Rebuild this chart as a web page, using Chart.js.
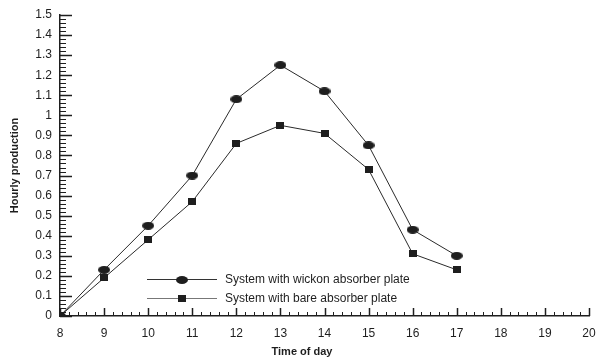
<!DOCTYPE html>
<html>
<head>
<meta charset="utf-8">
<script src="https://cdn.jsdelivr.net/npm/chart.js@4"></script>
<style>
  html, body { margin: 0; padding: 0; background: #fff; }
  canvas { display: block; }
</style>
</head>
<body>
<canvas id="c" width="597" height="363"></canvas>
<script>
// Hourly production through the day for two absorber plates
const hours = [8, 9, 10, 11, 12, 13, 14, 15, 16, 17];
const wickonPlate = [0, 0.23, 0.45, 0.70, 1.08, 1.25, 1.12, 0.85, 0.43, 0.30];
const barePlate = [0, 0.19, 0.38, 0.57, 0.86, 0.95, 0.91, 0.73, 0.31, 0.23];
const seriesNames = ['System with wickon absorber plate', 'System with bare absorber plate'];
const yTickLabels = ['0', '0.1', '0.2', '0.3', '0.4', '0.5', '0.6', '0.7', '0.8', '0.9', '1', '1.1', '1.2', '1.3', '1.4', '1.5'];
const xTickLabels = ['8', '9', '10', '11', '12', '13', '14', '15', '16', '17', '18', '19', '20'];
const xTitle = 'Time of day';
const yTitle = 'Hourly production';

const INK = '#1e1e1e';
const FONT = '"Liberation Sans", Arial, sans-serif';

// marker sprites: flattened disc and small block
function ellipseSprite(w, h) {
  const c = document.createElement('canvas');
  c.width = w; c.height = h;
  const g = c.getContext('2d');
  g.fillStyle = INK;
  g.beginPath();
  g.ellipse(w / 2, h / 2, w / 2, h / 2, 0, 0, Math.PI * 2);
  g.fill();
  return c;
}
function blockSprite(w, h) {
  const c = document.createElement('canvas');
  c.width = w; c.height = h;
  const g = c.getContext('2d');
  g.fillStyle = INK;
  g.fillRect(0, 0, w, h);
  return c;
}
const discMark = ellipseSprite(12, 8);
const blockMark = blockSprite(8, 7);

// inward major/minor ticks, in-plot legend and axis titles
const decorations = {
  id: 'decorations',
  afterDraw(chart) {
    const { ctx, chartArea: a, scales } = chart;
    const xs = scales.x, ys = scales.y;
    ctx.save();
    ctx.strokeStyle = INK;

    // y ticks: major every 0.1, minor every 0.02
    for (let k = 0; k <= 75; k++) {
      const v = k * 0.02;
      const py = Math.round(ys.getPixelForValue(v)) + 0.5;
      const major = k % 5 === 0;
      ctx.lineWidth = major ? 1.5 : 1;
      ctx.beginPath();
      ctx.moveTo(a.left, py);
      ctx.lineTo(a.left + (major ? 12 : 6), py);
      ctx.stroke();
    }
    // x ticks: major every hour, minor every 0.2 h
    for (let k = 0; k <= 60; k++) {
      const v = 8 + k * 0.2;
      const px = Math.round(xs.getPixelForValue(v)) + 0.5;
      const major = k % 5 === 0;
      ctx.lineWidth = major ? 1.5 : 1;
      ctx.beginPath();
      ctx.moveTo(px, a.bottom);
      ctx.lineTo(px, a.bottom - (major ? 8 : 4));
      ctx.stroke();
    }

    // legend
    const rows = [
      { name: seriesNames[0], mark: discMark, color: '#333' },
      { name: seriesNames[1], mark: blockMark, color: '#777' }
    ];
    ctx.font = '12px ' + FONT;
    ctx.textBaseline = 'middle';
    ctx.textAlign = 'left';
    rows.forEach((r, i) => {
      const y = a.bottom - 37 + i * 19;
      ctx.strokeStyle = r.color;
      ctx.lineWidth = 1;
      ctx.beginPath();
      ctx.moveTo(a.left + 87, y + 0.5);
      ctx.lineTo(a.left + 157, y + 0.5);
      ctx.stroke();
      ctx.drawImage(r.mark, Math.round(a.left + 122 - r.mark.width / 2), Math.round(y - r.mark.height / 2 + 0.5));
      ctx.fillStyle = INK;
      ctx.fillText(r.name, a.left + 165, y + 1);
    });

    // axis titles
    ctx.fillStyle = INK;
    ctx.font = 'bold 11px ' + FONT;
    ctx.textAlign = 'center';
    ctx.textBaseline = 'middle';
    ctx.fillText(xTitle, a.left + 242, a.bottom + 36);
    ctx.save();
    ctx.translate(15, (a.top + a.bottom) / 2);
    ctx.rotate(-Math.PI / 2);
    ctx.fillText(yTitle, 0, 0);
    ctx.restore();

    ctx.restore();
  }
};

const lineStyle = {
  borderColor: '#2a2a2a',
  borderWidth: 1,
  tension: 0,
  fill: false,
  pointRadius: 5,
  pointHoverRadius: 5
};

new Chart(document.getElementById('c'), {
  type: 'line',
  data: {
    datasets: [
      Object.assign({
        label: seriesNames[0],
        data: hours.map((h, i) => ({ x: h, y: wickonPlate[i] })),
        pointStyle: discMark
      }, lineStyle),
      Object.assign({
        label: seriesNames[1],
        data: hours.map((h, i) => ({ x: h, y: barePlate[i] })),
        pointStyle: blockMark
      }, lineStyle)
    ]
  },
  options: {
    responsive: false,
    animation: false,
    devicePixelRatio: 1,
    layout: { padding: { top: 15, right: 8, left: 0, bottom: 0 } },
    plugins: {
      legend: { display: false },
      tooltip: { enabled: false }
    },
    scales: {
      x: {
        type: 'linear',
        min: 8,
        max: 20,
        afterFit(s) { s.height = 47; s.paddingLeft = 0; s.paddingRight = 0; },
        grid: { display: false, drawTicks: false },
        border: { display: true, color: INK, width: 1.5 },
        ticks: {
          stepSize: 1,
          padding: 10,
          color: INK,
          font: { family: FONT, size: 12 },
          maxRotation: 0,
          autoSkip: false,
          callback: (v) => xTickLabels[Math.round(v - 8)]
        }
      },
      y: {
        min: 0,
        max: 1.5,
        afterFit(s) { s.width = 60; s.paddingTop = 0; s.paddingBottom = 0; },
        grid: { display: false, drawTicks: false },
        border: { display: true, color: INK, width: 1.5 },
        ticks: {
          stepSize: 0.1,
          padding: 8,
          color: INK,
          font: { family: FONT, size: 12 },
          autoSkip: false,
          callback: (v) => yTickLabels[Math.round(v * 10)]
        }
      }
    }
  },
  plugins: [decorations]
});
</script>
</body>
</html>
